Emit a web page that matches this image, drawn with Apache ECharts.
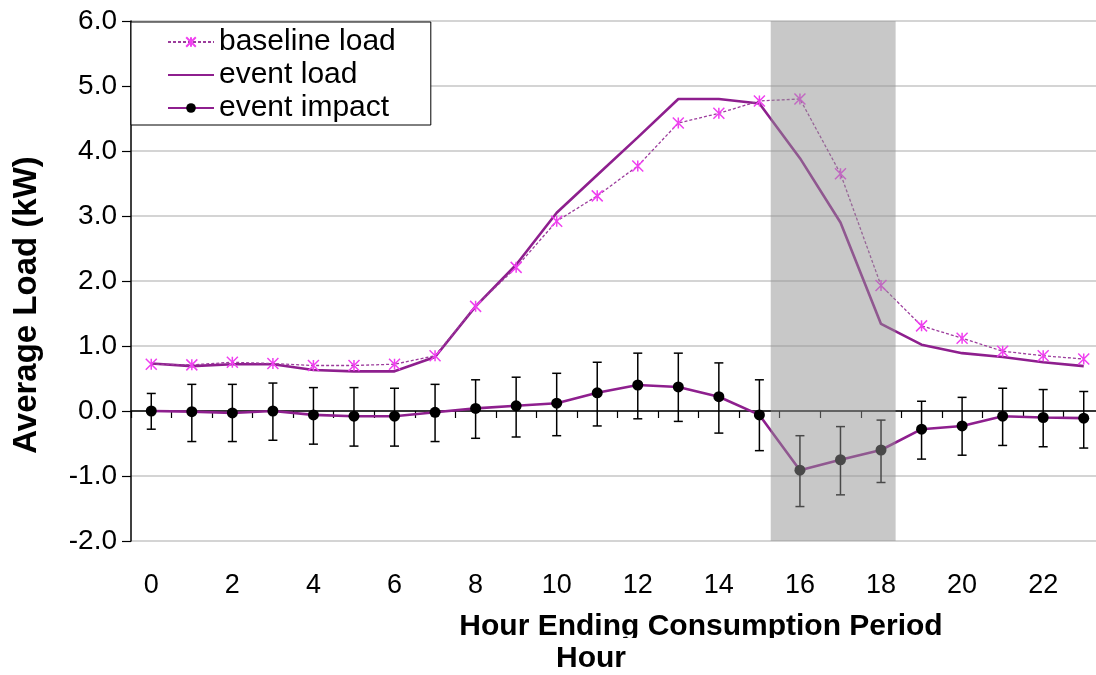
<!DOCTYPE html>
<html>
<head>
<meta charset="utf-8">
<script src="https://cdn.jsdelivr.net/npm/echarts@6/dist/echarts.min.js"></script>
<style>
  html, body { margin: 0; padding: 0; background: #ffffff; }
  #chart { width: 1096px; height: 675px; }
</style>
</head>
<body>
<div id="chart"></div>
<script>
// Hour-ending periods 0..23
const hours = ['0','1','2','3','4','5','6','7','8','9','10','11','12','13','14','15','16','17','18','19','20','21','22','23'];

// Average load, kW
const baselineLoad = [0.72, 0.71, 0.75, 0.73, 0.70, 0.70, 0.72, 0.85, 1.61, 2.21, 2.92, 3.31,
                      3.77, 4.43, 4.58, 4.77, 4.80, 3.65, 1.93, 1.31, 1.12, 0.92, 0.85, 0.80];
const eventLoad    = [0.73, 0.69, 0.72, 0.72, 0.63, 0.61, 0.61, 0.83, 1.61, 2.25, 3.05, 3.63,
                      4.21, 4.80, 4.80, 4.73, 3.89, 2.90, 1.34, 1.02, 0.89, 0.83, 0.75, 0.69];

// Event impact with its confidence band
const eventImpact  = [0.00, -0.01, -0.03, 0.00, -0.06, -0.08, -0.08, -0.02, 0.04, 0.08, 0.12, 0.28,
                      0.40, 0.37, 0.22, -0.06, -0.91, -0.75, -0.60, -0.28, -0.23, -0.08, -0.10, -0.11];
const impactUpper  = [0.27, 0.41, 0.41, 0.43, 0.36, 0.36, 0.35, 0.41, 0.48, 0.52, 0.58, 0.75,
                      0.89, 0.89, 0.74, 0.48, -0.38, -0.24, -0.14, 0.15, 0.21, 0.35, 0.33, 0.30];
const impactLower  = [-0.28, -0.47, -0.47, -0.45, -0.51, -0.54, -0.54, -0.47, -0.42, -0.40, -0.38, -0.23,
                      -0.12, -0.16, -0.34, -0.61, -1.47, -1.29, -1.10, -0.74, -0.68, -0.53, -0.55, -0.57];

// Event window (hour position, start and end)
const eventWindow = [15.28, 18.36];

const yTicks = { min: -2, max: 6, step: 1 };

const FONT = '"Liberation Sans", Arial, sans-serif';
const PURPLE = '#8e1f8e';
const MAGENTA = '#f040f0';

const chart = echarts.init(document.getElementById('chart'), null, { renderer: 'canvas' });

const errorBars = hours.map((h, i) => [i, impactLower[i], impactUpper[i]]);

const option = {
  animation: false,
  backgroundColor: '#ffffff',
  grid: { left: 131, top: 21, width: 973, height: 520, containLabel: false, outerBoundsMode: 'none' },
  legend: {
    orient: 'vertical',
    left: 131,
    top: 22,
    data: ['baseline load', 'event load', 'event impact'],
    itemWidth: 46,
    itemHeight: 12,
    itemGap: 3,
    padding: [5, 35, 2, 36],
    backgroundColor: '#ffffff',
    borderColor: '#000000',
    borderWidth: 1,
    textStyle: { fontFamily: FONT, fontSize: 30, lineHeight: 30, color: '#000000' },
    z: 20
  },
  xAxis: [
    {
      type: 'category',
      data: hours,
      position: 'bottom',
      boundaryGap: true,
      axisLine: { show: false, onZero: false },
      axisTick: { show: false },
      axisLabel: { interval: 1, margin: 31, fontFamily: FONT, fontSize: 27, color: '#000000' },
      splitLine: { show: false }
    },
    {
      type: 'category',
      data: hours,
      position: 'bottom',
      boundaryGap: true,
      axisLine: { show: true, onZero: true, lineStyle: { color: '#000000', width: 1.5 } },
      axisTick: { show: true, interval: 0, length: 7, lineStyle: { color: '#000000', width: 1.2 } },
      axisLabel: { show: false },
      splitLine: { show: false }
    },
    {
      type: 'value',
      min: -0.5,
      max: hours.length - 0.5,
      show: false
    }
  ],
  yAxis: {
    type: 'value',
    min: yTicks.min,
    max: yTicks.max,
    interval: yTicks.step,
    axisLine: { show: true, onZero: false, lineStyle: { color: '#000000', width: 1.5 } },
    axisTick: { show: true, length: 9, lineStyle: { color: '#000000', width: 1.2 } },
    axisLabel: {
      margin: 14,
      fontFamily: FONT,
      fontSize: 28,
      color: '#000000',
      formatter: v => v.toFixed(1)
    },
    splitLine: { show: true, lineStyle: { color: '#c6c6c6', width: 1.5 } }
  },
  series: [
    {
      name: 'event load',
      type: 'line',
      xAxisIndex: 0,
      data: eventLoad,
      showSymbol: false,
      symbol: 'circle',
      lineStyle: { color: PURPLE, width: 2.6 },
      itemStyle: { color: 'rgba(0,0,0,0)', borderWidth: 0 },
      z: 3
    },
    {
      name: 'baseline load',
      type: 'line',
      xAxisIndex: 0,
      data: baselineLoad,
      symbol: 'path://M0,0L10,10M10,0L0,10M5,0L5,10',
      symbolSize: 11,
      lineStyle: { color: '#9c3c9c', width: 1.3, type: [3, 2] },
      itemStyle: { color: 'rgba(0,0,0,0)', borderColor: MAGENTA, borderWidth: 1.5 },
      z: 4
    },
    {
      name: 'error',
      type: 'custom',
      xAxisIndex: 0,
      data: errorBars,
      renderItem: (params, api) => {
        const x = api.value(0);
        const lo = api.coord([x, api.value(1)]);
        const hi = api.coord([x, api.value(2)]);
        const cap = 4.5;
        const style = { stroke: '#000000', lineWidth: 1.5, fill: null };
        return {
          type: 'group',
          children: [
            { type: 'line', shape: { x1: lo[0], y1: lo[1], x2: hi[0], y2: hi[1] }, style },
            { type: 'line', shape: { x1: lo[0] - cap, y1: lo[1], x2: lo[0] + cap, y2: lo[1] }, style },
            { type: 'line', shape: { x1: hi[0] - cap, y1: hi[1], x2: hi[0] + cap, y2: hi[1] }, style }
          ]
        };
      },
      z: 5
    },
    {
      name: 'event impact',
      type: 'line',
      xAxisIndex: 0,
      data: eventImpact,
      symbol: 'circle',
      symbolSize: 11,
      lineStyle: { color: PURPLE, width: 2.6 },
      itemStyle: { color: '#000000' },
      z: 6
    },
    {
      name: 'event window',
      type: 'custom',
      xAxisIndex: 2,
      data: [eventWindow],
      renderItem: (params, api) => {
        const a = api.coord([api.value(0), yTicks.max]);
        const b = api.coord([api.value(1), yTicks.min]);
        return {
          type: 'rect',
          shape: { x: a[0], y: a[1], width: b[0] - a[0], height: b[1] - a[1] },
          style: { fill: 'rgba(146,146,146,0.5)' }
        };
      },
      z: 8
    }
  ],
  // Axis titles drawn as free text
  graphic: [
    {
      type: 'text',
      x: 27, y: 305,
      rotation: Math.PI / 2,
      style: {
        text: 'Average Load (kW)',
        align: 'center', verticalAlign: 'middle',
        font: 'bold 33px ' + FONT,
        fill: '#000000'
      },
      z: 30
    },
    {
      type: 'text',
      x: 701, y: 627,
      style: {
        text: 'Hour Ending Consumption Period',
        align: 'center', verticalAlign: 'middle',
        font: 'bold 30px ' + FONT,
        fill: '#000000'
      },
      z: 30
    },
    {
      type: 'rect',
      shape: { x: 440, y: 638, width: 530, height: 9 },
      style: { fill: '#ffffff' },
      z: 31
    },
    {
      type: 'text',
      x: 591, y: 659,
      style: {
        text: 'Hour',
        align: 'center', verticalAlign: 'middle',
        font: 'bold 30px ' + FONT,
        fill: '#000000'
      },
      z: 32
    }
  ]
};

chart.setOption(option);
</script>
</body>
</html>
